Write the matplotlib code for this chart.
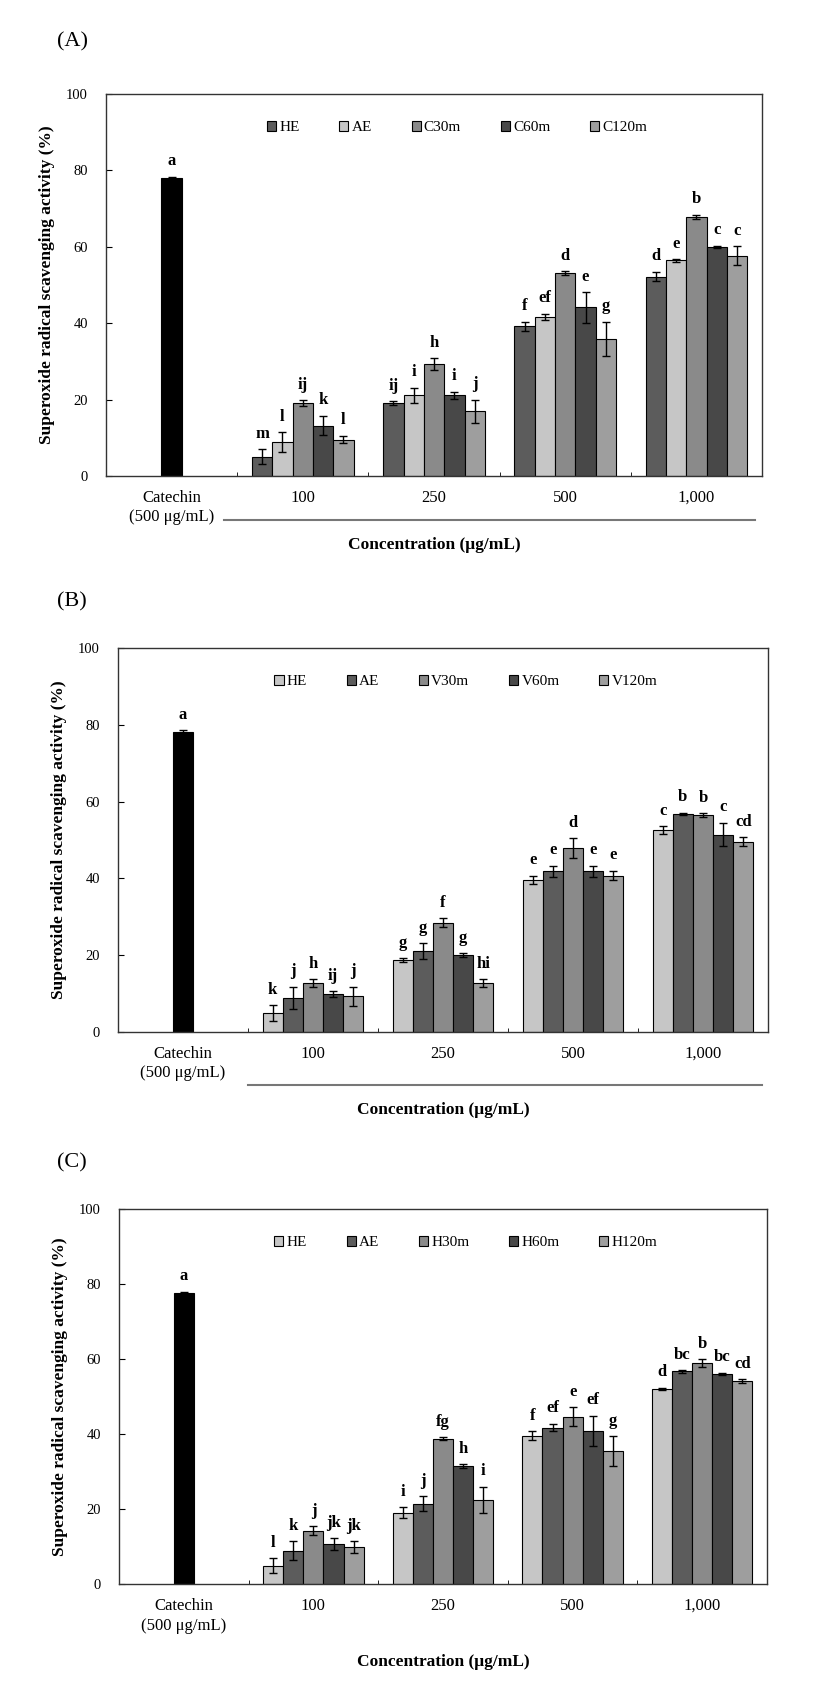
import numpy as np
import matplotlib
matplotlib.use("Agg")
import matplotlib.pyplot as plt
from matplotlib.lines import Line2D

plt.rcParams['font.family'] = ['Liberation Serif', 'DejaVu Serif']

# groups on the x axis
groups = ["Catechin\n(500 μg/mL)", "100", "250", "500", "1,000"]

# catechin bar (value, error) per panel
catechin_val = [78.0, 78.0, 77.5]
catechin_err = [0.3, 0.5, 0.5]

# (A) series
series_A = ["HE", "AE", "C30m", "C60m", "C120m"]
vals_A = [[5.0, 19.0, 39.2, 52.2],
          [8.9, 21.1, 41.7, 56.4],
          [19.0, 29.3, 53.1, 67.8],
          [13.2, 21.1, 44.1, 59.9],
          [9.5, 16.9, 35.8, 57.6]]
errs_A = [[2.0, 0.5, 1.2, 1.2],
          [2.5, 2.0, 0.8, 0.3],
          [0.8, 1.5, 0.5, 0.5],
          [2.5, 1.0, 4.0, 0.3],
          [1.0, 3.0, 4.5, 2.5]]
letters_A = [["m", "ij", "f", "d"],
             ["l", "i", "ef", "e"],
             ["ij", "h", "d", "b"],
             ["k", "i", "e", "c"],
             ["l", "j", "g", "c"]]

# (B) series
series_B = ["HE", "AE", "V30m", "V60m", "V120m"]
vals_B = [[4.9, 18.7, 39.6, 52.5],
          [8.9, 21.1, 41.8, 56.8],
          [12.7, 28.4, 47.9, 56.4],
          [9.8, 20.0, 41.8, 51.4],
          [9.3, 12.7, 40.7, 49.5]]
errs_B = [[2.0, 0.5, 1.0, 1.0],
          [2.8, 2.0, 1.5, 0.3],
          [1.0, 1.2, 2.5, 0.5],
          [0.8, 0.5, 1.5, 3.0],
          [2.5, 1.0, 1.2, 1.2]]
letters_B = [["k", "g", "e", "c"],
             ["j", "g", "e", "b"],
             ["h", "f", "d", "b"],
             ["ij", "g", "e", "c"],
             ["j", "hi", "e", "cd"]]

# (C) series
series_C = ["HE", "AE", "H30m", "H60m", "H120m"]
vals_C = [[4.9, 19.0, 39.5, 52.1],
          [8.9, 21.4, 41.7, 56.7],
          [14.2, 38.8, 44.6, 58.9],
          [10.7, 31.4, 40.9, 56.0],
          [9.9, 22.4, 35.4, 54.1]]
errs_C = [[2.0, 1.5, 1.2, 0.3],
          [2.5, 2.0, 1.0, 0.3],
          [1.2, 0.3, 2.5, 1.0],
          [1.5, 0.5, 4.0, 0.3],
          [1.5, 3.5, 4.0, 0.5]]
letters_C = [["l", "i", "f", "d"],
             ["k", "j", "ef", "bc"],
             ["j", "fg", "e", "b"],
             ["jk", "h", "ef", "bc"],
             ["jk", "i", "g", "cd"]]

colors_A = ["#5c5c5c", "#c6c6c6", "#8a8a8a", "#484848", "#9e9e9e"]
colors_BC = ["#c6c6c6", "#5c5c5c", "#8a8a8a", "#484848", "#9e9e9e"]

fig = plt.figure(figsize=(8.27, 16.92), dpi=100)

panels = [
    ("(A)", [0.1282, 0.7187, 0.7932, 0.2258], 0.975, series_A, vals_A, errs_A, letters_A, colors_A, True, 0.18, -0.115, -0.18),
    ("(B)", [0.1427, 0.3901, 0.7860, 0.2270], 0.644, series_B, vals_B, errs_B, letters_B, colors_BC, True, 0.20, -0.138, -0.203),
    ("(C)", [0.1439, 0.0638, 0.7836, 0.2216], 0.313, series_C, vals_C, errs_C, letters_C, colors_BC, False, 0.20, 0, -0.208),
]

bw = 0.155
x = np.arange(len(groups))

for i, (tag, rect, tag_y, names, vals, errs, lets, cols, underline, ul_x0, ul_y, xl_y) in enumerate(panels):
    ax = fig.add_axes(rect)
    fig.text(0.069, tag_y, tag, fontsize=16, va='center', ha='left')

    # catechin
    ax.bar(x[0], catechin_val[i], bw, color='black', edgecolor='black', lw=0.8,
           yerr=catechin_err[i], capsize=3, error_kw=dict(lw=1, capthick=1))
    ax.text(x[0], catechin_val[i] + catechin_err[i] + 2.0, "a", ha='center', va='bottom',
            fontsize=12, fontweight='bold')

    for k in range(5):
        pos = x[1:] + (k - 2) * bw
        ax.bar(pos, vals[k], bw, color=cols[k], edgecolor='black', lw=0.8, label=names[k],
               yerr=errs[k], capsize=3, error_kw=dict(lw=1, capthick=1, ecolor='black'))
        for p, v, e, t in zip(pos, vals[k], errs[k], lets[k]):
            ax.text(p, v + e + 2.0, t, ha='center', va='bottom', fontsize=12, fontweight='bold')

    ax.set_xlim(-0.5, 4.5)
    ax.set_ylim(0, 100)
    ax.set_yticks(np.arange(0, 101, 20))
    ax.tick_params(axis='y', direction='in', length=4, labelsize=10.5, pad=13)
    ax.set_xticks(x)
    ax.set_xticklabels(groups, fontsize=12, va='top', linespacing=1.3)
    ax.tick_params(axis='x', length=0, pad=10)
    ax.set_xticks([0.5, 1.5, 2.5, 3.5], minor=True)
    ax.tick_params(axis='x', which='minor', direction='in', length=3)
    for s in ax.spines.values():
        s.set_linewidth(1.0)
        s.set_color('#333333')

    ax.set_ylabel("Superoxide radical scavenging activity (%)", fontsize=12.5, fontweight='bold')
    ax.yaxis.set_label_coords(-0.078, 0.5)

    ax.text(0.5, xl_y, "Concentration (μg/mL)", transform=ax.transAxes, ha='center', va='center',
            fontsize=12.5, fontweight='bold')
    if underline:
        ax.add_line(Line2D([ul_x0, 0.99], [ul_y, ul_y], transform=ax.transAxes, color='#777777',
                           lw=1.5, clip_on=False))

    ax.legend(loc='upper center', bbox_to_anchor=(0.535, 0.965), ncol=5, frameon=False,
              fontsize=11, handlelength=0.6, handleheight=0.6, handletextpad=0.2, columnspacing=2.6)

fig.savefig("out.png", dpi=100)
